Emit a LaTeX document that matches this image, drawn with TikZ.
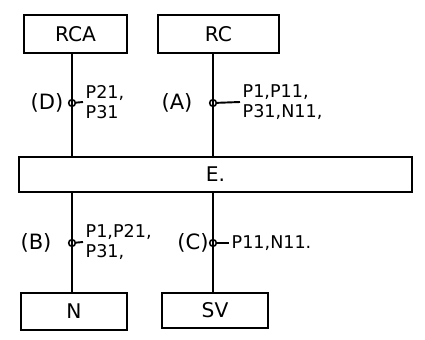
\documentclass[tikz,border=0pt]{standalone}
\usepackage{fontspec}
\setsansfont{DejaVu Sans}
\usetikzlibrary{positioning}
\begin{document}
\begin{tikzpicture}[x=0.02cm, y=-0.02cm, font=\sffamily, line width=1.1pt,
    blk/.style={draw, line width=1.2pt, minimum height=0.76cm, inner sep=0pt, font=\sffamily\fontsize{11.5}{13}\selectfont},
    tap/.style={draw, circle, minimum size=3.8pt, inner sep=0pt, line width=0.9pt},
    tag/.style={inner sep=1pt, font=\sffamily\fontsize{12}{14}\selectfont},
    lst/.style={align=left, inner sep=1pt, font=\sffamily\fontsize{10}{11.5}\selectfont}]
  \useasboundingbox (0,0) rectangle (425,340);
  % blocks
  \node[blk, minimum width=2.06cm] (rca) at (75.5,34) {RCA};
  \node[blk, minimum width=2.42cm] (rc) at (218.5,34) {RC};
  \node[blk, minimum width=7.86cm, minimum height=0.70cm] (e) at (215.5,174.5) {E.};
  \node[blk, minimum width=2.12cm, minimum height=0.74cm] (n) at (74,311.5) {N};
  \node[blk, minimum width=2.12cm, minimum height=0.70cm] (sv) at (215,310.5) {SV};
  % the two lines
  \coordinate (la) at (72,0);
  \coordinate (lb) at (213,0);
  \draw (rca.south -| la) -- (e.north -| la);
  \draw (rc.south -| lb) -- (e.north -| lb);
  \draw (e.south -| la) -- (n.north -| la);
  \draw (e.south -| lb) -- (sv.north -| lb);
  % taps with their lists
  \node[tap] (tapD) at (72,103) {};
  \node[tag] (tagD) at (47,103) {(D)};
  \node[lst, anchor=west] (lstD) at (83,102) {P21,\\P31};
  \draw (tapD) -- (lstD.west);
  \node[tap] (tapA) at (213,103) {};
  \node[tag] (tagA) at (177,103) {(A)};
  \node[lst, anchor=west] (lstA) at (240,102) {P1,P11,\\P31,N11,};
  \draw (tapA) -- (lstA.west);
  \node[tap] (tapB) at (72,243) {};
  \node[tag] (tagB) at (36,243) {(B)};
  \node[lst, anchor=west] (lstB) at (83,242) {P1,P21,\\P31,};
  \draw (tapB) -- (lstB.west);
  \node[tap] (tapC) at (213,243) {};
  \node[tag] (tagC) at (193,243) {(C)};
  \node[lst, anchor=west] (lstC) at (229,243) {P11,N11.};
  \draw (tapC) -- (lstC.west);
\end{tikzpicture}
\end{document}
